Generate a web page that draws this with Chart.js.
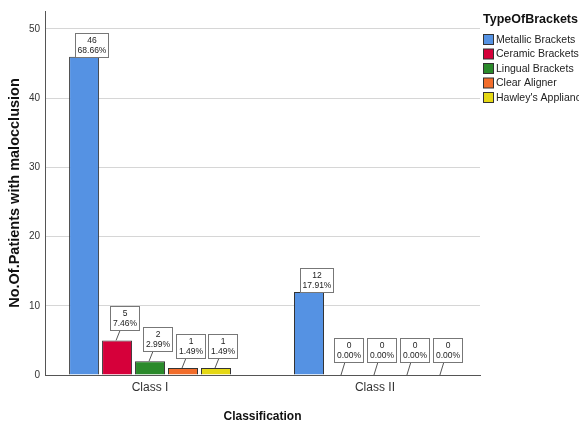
<!DOCTYPE html>
<html>
<head>
<meta charset="utf-8">
<script src="https://cdn.jsdelivr.net/npm/chart.js@4.4.1/dist/chart.umd.min.js"></script>
<style>
  body { margin: 0; background: #fff; }
  #wrap { width: 579px; height: 424px; }
</style>
</head>
<body>
<div id="wrap"><canvas id="myChart" width="579" height="424"></canvas></div>
<script>
const categories = ['Class I', 'Class II'];
const bracketTypes = ['Metallic Brackets', 'Ceramic Brackets', 'Lingual Brackets', 'Clear Aligner', "Hawley's Appliance"];
const metallic = [46, 12];
const ceramic = [5, 0];
const lingual = [2, 0];
const clearAligner = [1, 0];
const hawley = [1, 0];
const yTicks = [0, 10, 20, 30, 40, 50];

const colors = ['#5592e3', '#d6003a', '#2b8a2b', '#f26d2b', '#e5d814'];
const seriesValues = [metallic, ceramic, lingual, clearAligner, hawley];
const total = seriesValues.flat().reduce((a, b) => a + b, 0);

const FONT = "'Liberation Sans', Arial, sans-serif";

// boxed count / percent labels with a little leader line
const boxLabels = {
    id: 'boxLabels',
    afterDatasetsDraw(chart) {
        const ctx = chart.ctx;
        ctx.save();
        ctx.font = '8.5px ' + FONT;
        ctx.textAlign = 'center';
        ctx.textBaseline = 'middle';
        chart.data.datasets.forEach((ds, di) => {
            chart.getDatasetMeta(di).data.forEach((bar, i) => {
                const v = seriesValues[di][i];
                const l1 = String(v);
                const l2 = (v / total * 100).toFixed(2) + '%';
                const w = Math.ceil(Math.max(ctx.measureText(l1).width, ctx.measureText(l2).width)) + 4;
                const h = 24;
                let gap = 10;
                if (di === 0) gap = 0;
                else if (v === 0) gap = 13;
                const cx = bar.x + 7;
                const bottom = bar.y - gap;
                const left = Math.round(cx - w / 2) + 0.5;
                const top = Math.round(bottom - h) + 0.5;
                if (gap > 0) {
                    ctx.strokeStyle = '#555';
                    ctx.lineWidth = 1;
                    ctx.beginPath();
                    ctx.moveTo(cx - 4, bottom);
                    ctx.lineTo(bar.x - 1, bar.y);
                    ctx.stroke();
                }
                ctx.fillStyle = '#fff';
                ctx.fillRect(left, top, w, h);
                ctx.strokeStyle = '#777';
                ctx.strokeRect(left, top, w, h);
                ctx.fillStyle = '#222';
                ctx.fillText(l1, left + w / 2, top + 7);
                ctx.fillText(l2, left + w / 2, top + 17);
            });
        });
        ctx.restore();
    }
};

// legend drawn at the top right like the original output
const sideLegend = {
    id: 'sideLegend',
    afterDraw(chart) {
        const ctx = chart.ctx;
        ctx.save();
        ctx.textBaseline = 'middle';
        ctx.textAlign = 'left';
        ctx.fillStyle = '#111';
        ctx.font = 'bold 12.5px ' + FONT;
        ctx.fillText('TypeOfBrackets', 483, 20);
        ctx.font = '10.5px ' + FONT;
        chart.data.datasets.forEach((ds, i) => {
            const y = 40 + i * 14.5;
            ctx.fillStyle = ds.backgroundColor;
            ctx.fillRect(483.5, y - 5.5, 10, 10);
            ctx.strokeStyle = '#333';
            ctx.lineWidth = 1;
            ctx.strokeRect(483.5, y - 5.5, 10, 10);
            ctx.fillStyle = '#222';
            ctx.fillText(ds.label, 496, y);
        });
        ctx.restore();
    }
};

const ctx = document.getElementById('myChart');
const myChart = new Chart(ctx, {
    type: 'bar',
    data: {
        datasets: seriesValues.map((vals, i) => ({
            label: bracketTypes[i],
            data: vals.map((v, k) => ({ x: k, y: v })),
            backgroundColor: colors[i],
            borderColor: '#333',
            borderWidth: 1,
            barPercentage: 0.91,
            categoryPercentage: 0.733
        }))
    },
    options: {
        responsive: false,
        animation: false,
        layout: {
            padding: { top: 6, right: 99, left: 0, bottom: 0 }
        },
        scales: {
            x: {
                type: 'linear',
                offset: false,
                min: -0.467,
                max: 1.467,
                grid: { display: false, drawTicks: false, offset: false },
                border: { color: '#555' },
                afterBuildTicks(scale) {
                    scale.ticks = categories.map((c, k) => ({ value: k }));
                },
                ticks: {
                    color: '#333',
                    font: { family: FONT, size: 12 },
                    padding: 5,
                    callback: (v) => categories[v]
                },
                title: {
                    display: true,
                    text: 'Classification',
                    color: '#111',
                    font: { family: FONT, size: 12, weight: 'bold' },
                    padding: { top: 4, bottom: 0 }
                },
                afterFit(scale) { scale.height = 49; }
            },
            y: {
                min: 0,
                max: 52.6,
                grid: { color: '#d6d6d6', drawTicks: false },
                border: { color: '#555' },
                ticks: {
                    color: '#333',
                    font: { family: FONT, size: 10 },
                    padding: 5
                },
                afterBuildTicks(scale) {
                    scale.ticks = yTicks.map(v => ({ value: v }));
                },
                title: {
                    display: true,
                    text: 'No.Of.Patients with malocclusion',
                    color: '#111',
                    font: { family: FONT, size: 14.5, weight: 'bold' },
                    padding: { top: 6, bottom: 4 }
                },
                afterFit(scale) { scale.width = 45; }
            }
        },
        plugins: {
            legend: { display: false },
            tooltip: { enabled: false }
        }
    },
    plugins: [boxLabels, sideLegend]
});
</script>
</body>
</html>
